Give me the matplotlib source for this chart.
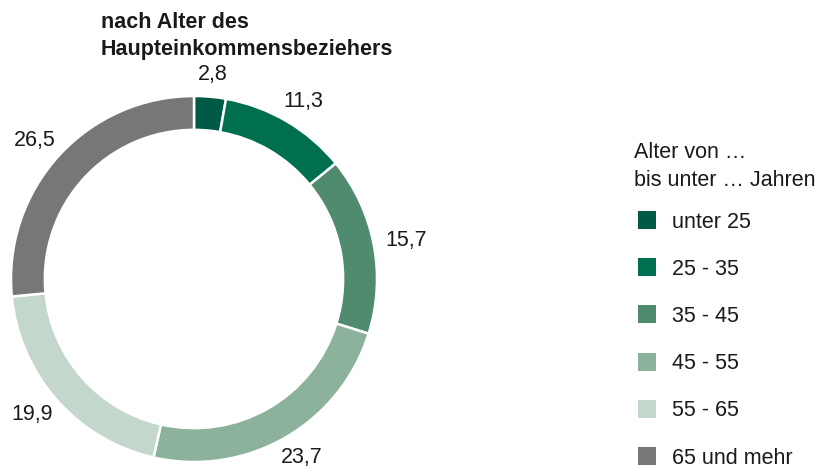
import matplotlib
matplotlib.use("Agg")
import matplotlib.pyplot as plt
from matplotlib.patches import Rectangle
import numpy as np

categories = ["unter 25", "25 - 35", "35 - 45", "45 - 55", "55 - 65", "65 und mehr"]
values = [2.8, 11.3, 15.7, 23.7, 19.9, 26.5]
value_labels = ["2,8", "11,3", "15,7", "23,7", "19,9", "26,5"]
colors = ["#005a45", "#006f4f", "#508b70", "#8cb29b", "#c4d7cc", "#777779"]
title_lines = ["nach Alter des", "Haupteinkommensbeziehers"]
legend_title_lines = ["Alter von …", "bis unter … Jahren"]

plt.rcParams['font.family'] = ['Liberation Sans', 'DejaVu Sans']
FS = 15.5
TXT = "#1a1a1a"

W, H = 819, 470
fig = plt.figure(figsize=(W/100, H/100), dpi=100)
cx, cy, R = 194, 279, 183
ax = fig.add_axes([(cx-R)/W, (H-cy-R)/H, 2*R/W, 2*R/H])

wedges, texts = ax.pie(values, labels=value_labels, colors=colors, startangle=90,
                       counterclock=False, radius=1.0, labeldistance=1.15,
                       wedgeprops=dict(width=0.185, edgecolor="white", linewidth=1.8),
                       textprops=dict(fontsize=FS, color=TXT))
ax.set_xlim(-1, 1)
ax.set_ylim(-1, 1)
ax.axis("off")

# place labels so that their box sits just outside the ring
fig.canvas.draw()
r0 = 1.065
for w, t in zip(wedges, texts):
    th = np.deg2rad((w.theta1 + w.theta2) / 2)
    bb = t.get_window_extent()
    hw, hh = bb.width / 2 / R, bb.height / 2 / R
    x = r0*np.cos(th) + hw*np.cos(th)
    y = r0*np.sin(th) + hh*np.sin(th)
    t.set_position((x, y))
    t.set_ha("center")
    t.set_va("center")

def fy(py):
    return 1 - py / H

# title
for i, line in enumerate(title_lines):
    fig.text(101/W, fy(28 + i*27.5), line, fontsize=FS, fontweight="bold",
             ha="left", va="baseline", color=TXT)

# legend (manual)
for i, line in enumerate(legend_title_lines):
    fig.text(634/W, fy(158 + i*28), line, fontsize=FS, ha="left", va="baseline", color=TXT)
sq = 18
for i, (cat, col) in enumerate(zip(categories, colors)):
    yc = 220 + i*47.2
    fig.add_artist(Rectangle((638/W, fy(yc + sq/2)), sq/W, sq/H, transform=fig.transFigure,
                             facecolor=col, edgecolor="none"))
    fig.text(672/W, fy(yc + 7.5), cat, fontsize=FS, ha="left", va="baseline", color=TXT)

fig.savefig("out.png", dpi=100)
